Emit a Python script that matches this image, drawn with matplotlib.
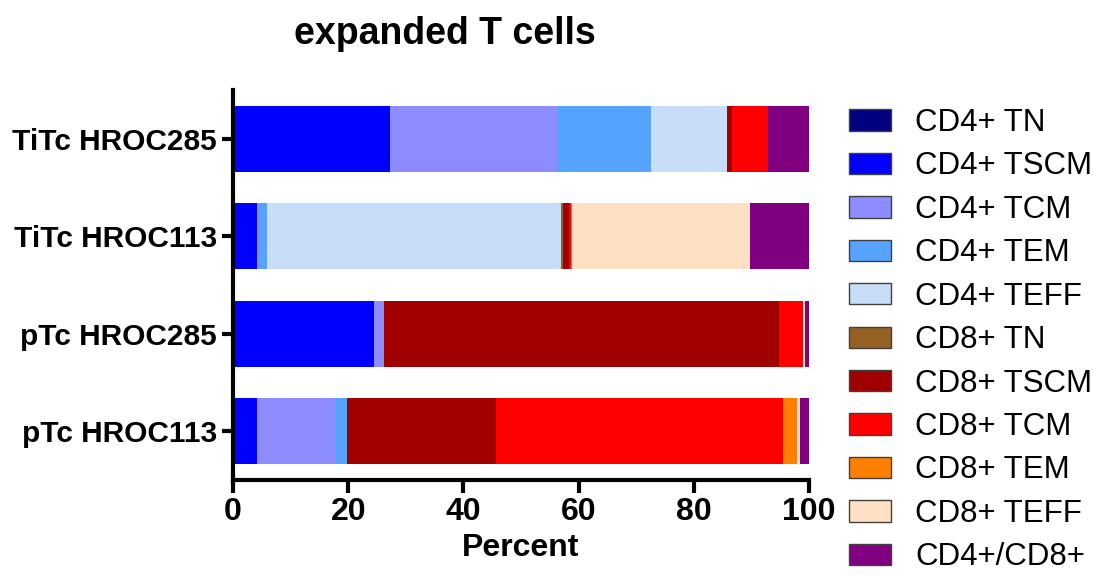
import matplotlib
matplotlib.use("Agg")
import matplotlib.pyplot as plt
from matplotlib.patches import Patch
import numpy as np

plt.rcParams['font.family'] = ['Liberation Sans', 'DejaVu Sans']

samples = ["TiTc HROC285", "TiTc HROC113", "pTc HROC285", "pTc HROC113"]
subsets = ["CD4+ TN", "CD4+ TSCM", "CD4+ TCM", "CD4+ TEM", "CD4+ TEFF",
           "CD8+ TN", "CD8+ TSCM", "CD8+ TCM", "CD8+ TEM", "CD8+ TEFF",
           "CD4+/CD8+"]
colors = ["#000080", "#0000FF", "#8C8CFF", "#55A2FF", "#C8DEF8",
          "#956223", "#A00000", "#FF0000", "#FF8000", "#FFE0C2",
          "#800080"]

# percent per subset, rows follow samples order
titc_285 = [0, 27.2, 29.1, 16.3, 13.2, 0, 0.9, 6.1, 0, 0, 7.2]
titc_113 = [0, 4.1, 0.5, 1.3, 51.0, 0.4, 1.0, 0.4, 0.2, 30.9, 10.2]
ptc_285 = [0, 24.45, 1.8, 0, 0, 0, 68.5, 4.15, 0, 0.4, 0.7]
ptc_113 = [0, 4.25, 13.55, 2.0, 0, 0, 25.9, 49.7, 2.6, 0.5, 1.5]

data = np.array([titc_285, titc_113, ptc_285, ptc_113])

fig = plt.figure(figsize=(10.94, 5.75), dpi=100)
ax = fig.add_axes([233/1094, 1-480/575, (809-233)/1094, (480-90)/575])

ypos = np.arange(len(samples))[::-1]
left = np.zeros(len(samples))
for j in range(len(subsets)):
    ax.barh(ypos, data[:, j], left=left, height=0.68, color=colors[j],
            edgecolor="none")
    left += data[:, j]

ax.set_xlim(0, 100)
ax.set_ylim(-0.5, 3.5)
ax.set_yticks(ypos)
ax.set_yticklabels(samples, fontsize=21.5, fontweight="bold")
ax.set_xticks([0, 20, 40, 60, 80, 100])
ax.tick_params(axis="x", labelsize=23, width=3, length=9)
ax.tick_params(axis="y", width=3, length=8)
for lab in ax.get_xticklabels():
    lab.set_fontweight("bold")
ax.set_xlabel("Percent", fontsize=23, fontweight="bold", labelpad=4)
for s in ["top", "right"]:
    ax.spines[s].set_visible(False)
for s in ["left", "bottom"]:
    ax.spines[s].set_linewidth(3)

fig.text(445/1094, 1-34/575, "expanded T cells", fontsize=27,
         fontweight="bold", ha="center", va="center")

handles = [Patch(facecolor=c, edgecolor="#404040", linewidth=1) for c in colors]
fig.legend(handles, subsets, loc="upper left",
           bbox_to_anchor=(849/1094, 1-108/575), frameon=False,
           fontsize=22.5, borderpad=0, borderaxespad=0, labelspacing=0.43,
           handlelength=1.35, handleheight=0.67, handletextpad=0.77)

fig.savefig("out.png", dpi=100)
